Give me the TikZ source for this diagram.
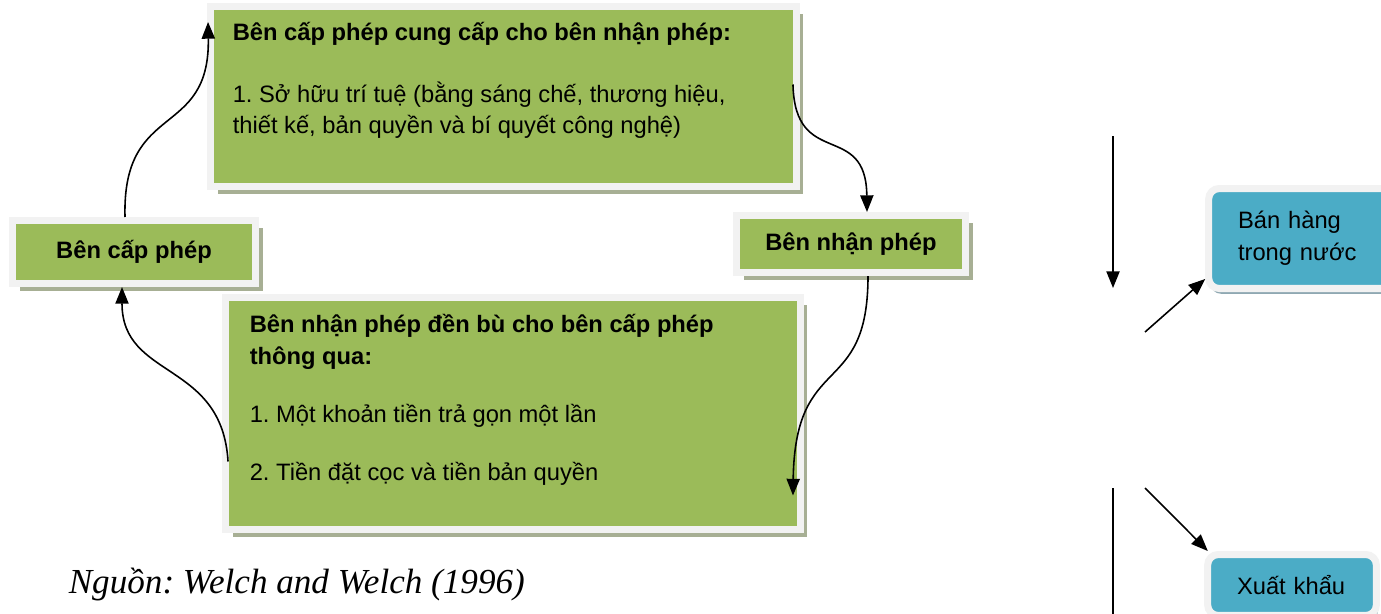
\documentclass[tikz,border=0pt]{standalone}
\usepackage{fontspec}
\setmainfont{Liberation Sans}
\newfontfamily\captionserif{Liberation Serif}
\usetikzlibrary{arrows.meta,shadows}

\definecolor{boxgreen}{HTML}{9BBB59}
\definecolor{boxframe}{HTML}{F2F2F2}
\definecolor{greenshade}{HTML}{A7AF94}
\definecolor{boxblue}{HTML}{4BACC6}
\definecolor{blueshade}{HTML}{8FA8B2}
\newcommand\boxfont{\fontsize{13.5}{18}\selectfont\frenchspacing}

\begin{document}
\begin{tikzpicture}[
  x=0.02cm, y=-0.02cm,
  >={Triangle[length=9.5pt,width=7.5pt]},
  line width=0.9pt,
  font=\boxfont,
  greenbox/.style={draw=boxframe, line width=4pt, fill=boxgreen, inner sep=0pt,
    drop shadow={shadow xshift=4pt, shadow yshift=-4pt, fill=greenshade, opacity=1}},
  bluebox/.style={draw=boxframe, line width=4pt, fill=boxblue, rounded corners=6pt,
    inner xsep=16.7pt, align=left,
    drop shadow={shadow xshift=1pt, shadow yshift=-3pt, fill=blueshade, opacity=1}},
  boxtext/.style={anchor=north west, inner sep=0pt, align=left},
  flow/.style={->}
]
  \useasboundingbox (0,0) rectangle (1381,613);
  \clip (0,0) rectangle (1381,613);
  \fill[white] (0,0) rectangle (1381,613);

  % Licence cycle: what the licensor gives and what comes back
  \node[greenbox, minimum width=11.72cm, minimum height=3.6cm] (give) at (503.5,96.5) {};
  \node[boxtext] (givetxt) at (232,21.5) {
    \textbf{Bên cấp phép cung cấp cho bên nhận phép:}\\[17pt]
    1. Sở hữu trí tuệ (bằng sáng chế, thương hiệu,\\
    thiết kế, bản quyền và bí quyết công nghệ)
  };
  \node[greenbox, font=\boxfont\bfseries, minimum width=4.86cm, minimum height=1.26cm]
    (giver) at (134,252) {Bên cấp phép};
  \node[greenbox, font=\boxfont\bfseries, minimum width=4.58cm, minimum height=1.14cm]
    (receive) at (851,244) {Bên nhận phép};
  \node[greenbox, minimum width=11.5cm, minimum height=4.64cm] (take) at (513,413.5) {};
  \node[boxtext] (taketxt) at (249,313.5) {
    \textbf{Bên nhận phép đền bù cho bên cấp phép}\\
    \textbf{thông qua:}\\[15pt]
    1. Một khoản tiền trả gọn một lần\\[15pt]
    2. Tiền đặt cọc và tiền bản quyền
  };

  \draw[flow] ([shift={(-9,0)}]giver.north)
    .. controls (122,100) and (210,140) .. ([shift={(1,19)}]give.north west);
  \draw[flow] ([shift={(-7,-12)}]give.east)
    .. controls (795,170) and (866,120) .. ([shift={(16,0)}]receive.north);
  \draw[flow] ([shift={(17,0)}]receive.south)
    .. controls (868,400) and (795,350) .. ([shift={(-11,82)}]take.east);
  \draw[flow] ([shift={(6,48)}]take.west)
    .. controls (222,360) and (122,380) .. ([shift={(-12,0)}]giver.south);

  \node[anchor=base west, inner sep=0pt,
    font=\captionserif\itshape\fontsize{20}{24}\selectfont\frenchspacing]
    (src) at (68,593) {Nguồn: Welch and Welch (1996)};

  % Sales split on the right
  \node[bluebox, text width=2.5cm, minimum height=2cm] (sell) at (1300.5,238.5) {Bán hàng\\trong nước};
  \node[bluebox, text width=2.2cm, minimum height=1.22cm] (export) at (1292,585) {Xuất khẩu};

  \coordinate (inflow) at (1113,136);
  \coordinate (inend) at (1113,288);
  \coordinate (sellfrom) at (1145,332);
  \coordinate (outflow) at (1113,488);
  \coordinate (outend) at (1113,620);
  \coordinate (exportfrom) at (1145,488);
  \draw[flow] (inflow) -- (inend);
  \draw[flow] (sellfrom) -- (sell.203);
  \draw (outflow) -- (outend);
  \draw[flow] (exportfrom) -- (export.158);
\end{tikzpicture}
\end{document}
